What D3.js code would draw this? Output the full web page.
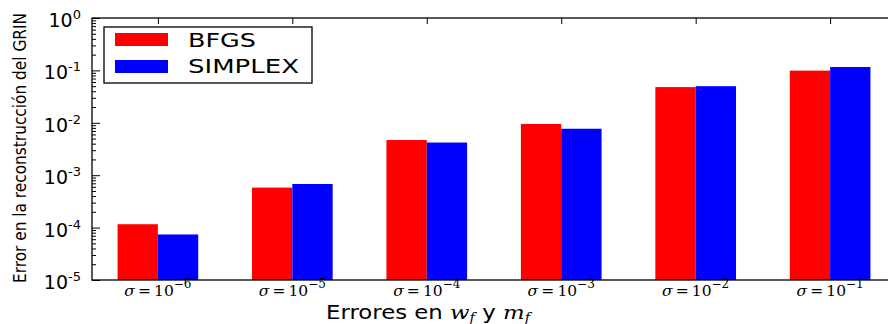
<!DOCTYPE html>
<html>
<head>
<meta charset="utf-8">
<script src="https://cdn.jsdelivr.net/npm/d3@7"></script>
<style>
  html, body { margin: 0; padding: 0; background: #fff; }
  svg { display: block; }
</style>
</head>
<body>
<svg id="chart" width="888" height="324"></svg>
<script>
// Reconstruction error of the GRIN profile for each noise level
const exponents = [-6, -5, -4, -3, -2, -1];
const seriesNames = ["BFGS", "SIMPLEX"];
const bfgs    = [1.16e-4, 5.8e-4, 4.7e-3, 9.5e-3, 4.8e-2, 0.099];
const simplex = [7.4e-5, 6.8e-4, 4.2e-3, 7.7e-3, 5.0e-2, 0.116];
const yTickExps = [0, -1, -2, -3, -4, -5];
const colors = ["#ff0000", "#0000ff"];

const svg = d3.select("#chart");
const plotL = 92, plotR = 896, plotT = 18, plotB = 280;

const x = d3.scaleLinear().domain([-0.49, 5.49]).range([plotL, plotR]);
const y = d3.scaleLog().domain([1e-5, 1]).range([plotB, plotT]);
const barW = 0.3;

// bars
const series = [bfgs, simplex];
series.forEach((vals, s) => {
  svg.append("g").selectAll("rect")
    .data(vals)
    .join("rect")
    .attr("x", (d, i) => x(i - barW + s * barW))
    .attr("width", x(barW) - x(0))
    .attr("y", d => y(d))
    .attr("height", d => y(1e-5) - y(d))
    .attr("fill", colors[s]);
});

// minor log ticks on the left spine
const minor = [];
for (let e = -5; e < 0; e++) for (let k = 2; k <= 9; k++) minor.push(k * Math.pow(10, e));

const yAxis = svg.append("g").attr("transform", `translate(${plotL},0)`)
  .call(d3.axisLeft(y).tickValues(yTickExps.map(e => Math.pow(10, e))).tickSize(-8).tickFormat(""));
const yMinor = svg.append("g").attr("transform", `translate(${plotL},0)`)
  .call(d3.axisLeft(y).tickValues(minor).tickSize(-4).tickFormat(""));
[yAxis, yMinor].forEach(g => {
  g.select(".domain").remove();
  g.selectAll("line").attr("stroke", "#000").attr("stroke-width", 1);
});

// top ticks at category positions
const xTop = svg.append("g").attr("transform", `translate(0,${plotT})`)
  .call(d3.axisTop(x).tickValues(d3.range(exponents.length)).tickSize(-6).tickFormat(""));
xTop.select(".domain").remove();
xTop.selectAll("line").attr("stroke", "#000");

// spines
svg.append("rect")
  .attr("x", plotL).attr("y", plotT)
  .attr("width", plotR - plotL).attr("height", plotB - plotT)
  .attr("fill", "none").attr("stroke", "#000").attr("stroke-width", 1.3);

// y tick labels 10^n
const yl = svg.append("g");
yTickExps.forEach(e => {
  const t = yl.append("text")
    .attr("x", 81).attr("y", y(Math.pow(10, e)) + 9)
    .attr("text-anchor", "end")
    .attr("font-family", "DejaVu Sans")
    .attr("font-size", 19)
    .attr("fill", "#000");
  t.append("tspan").text("10");
  t.append("tspan").attr("dy", -8).attr("font-size", 13).text(e === 0 ? "0" : "-" + (-e));
});

// x tick labels σ = 10^n
const xl = svg.append("g");
exponents.forEach((e, i) => {
  const t = xl.append("text")
    .attr("x", x(i)).attr("y", 296)
    .attr("text-anchor", "middle")
    .attr("font-family", "DejaVu Serif")
    .attr("font-size", 15.5)
    .attr("fill", "#000");
  t.append("tspan").attr("font-style", "italic").text("σ");
  t.append("tspan").text("\u2009=\u200910");
  t.append("tspan").attr("dy", -8).attr("font-size", 12).text("\u2212" + (-e));
});

// x axis title
const xt = svg.append("text")
  .attr("x", 428).attr("y", 319)
  .attr("text-anchor", "middle")
  .attr("font-family", "DejaVu Sans")
  .attr("font-size", 19)
  .attr("textLength", 204)
  .attr("lengthAdjust", "spacingAndGlyphs")
  .attr("fill", "#000");
xt.append("tspan").text("Errores en ");
xt.append("tspan").attr("font-family", "DejaVu Serif").attr("font-style", "italic").text("w");
xt.append("tspan").attr("font-family", "DejaVu Serif").attr("font-style", "italic").attr("font-size", 12).attr("dy", 3).text("f");
xt.append("tspan").attr("dy", -3).text(" y ");
xt.append("tspan").attr("font-family", "DejaVu Serif").attr("font-style", "italic").text("m");
xt.append("tspan").attr("font-family", "DejaVu Serif").attr("font-style", "italic").attr("font-size", 12).attr("dy", 3).text("f");

// y axis title
svg.append("text")
  .attr("transform", "translate(26,148) rotate(-90)")
  .attr("text-anchor", "middle")
  .attr("font-family", "DejaVu Sans Condensed, DejaVu Sans")
  .attr("font-stretch", "condensed")
  .attr("font-size", 17.5)
  .attr("textLength", 270)
  .attr("lengthAdjust", "spacingAndGlyphs")
  .attr("fill", "#000")
  .text("Error en la reconstrucción del GRIN");

// legend
const lg = svg.append("g");
lg.append("rect")
  .attr("x", 104).attr("y", 27).attr("width", 208).attr("height", 56)
  .attr("fill", "#fff").attr("stroke", "#000").attr("stroke-width", 1.3);
const labelLen = [68, 111];
seriesNames.forEach((name, i) => {
  lg.append("rect")
    .attr("x", 115).attr("y", 33 + i * 27)
    .attr("width", 53).attr("height", 13)
    .attr("fill", colors[i]);
  lg.append("text")
    .attr("x", 188).attr("y", 47 + i * 26)
    .attr("font-family", "DejaVu Sans")
    .attr("font-size", 19)
    .attr("textLength", labelLen[i])
    .attr("lengthAdjust", "spacingAndGlyphs")
    .attr("fill", "#000")
    .text(name);
});
</script>
</body>
</html>
